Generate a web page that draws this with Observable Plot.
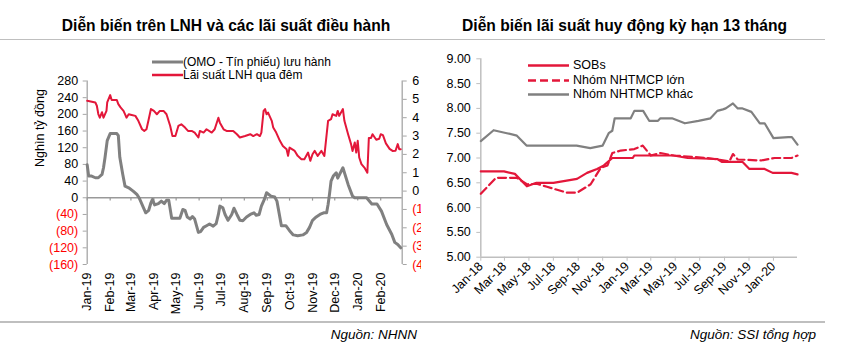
<!DOCTYPE html>
<html><head><meta charset="utf-8">
<script src="https://cdn.jsdelivr.net/npm/d3@7"></script>
<script src="https://cdn.jsdelivr.net/npm/@observablehq/plot@0.6"></script>
<style>
body{margin:0;background:#fff;font-family:"Liberation Sans",Arial,sans-serif;}
#page{position:relative;width:842px;height:354px;overflow:hidden;background:#fff;}
.abs{position:absolute;}
.title{font-weight:bold;font-size:15.6px;color:#000;text-align:center;line-height:18px;white-space:nowrap;}
.rule{background:#BFBFBF;height:1.5px;}
.src{font-style:italic;font-size:13.5px;text-align:right;white-space:nowrap;line-height:16px;color:#000;}
.leg{font-size:12.5px;line-height:13px;white-space:nowrap;display:flex;align-items:center;color:#000;}
.leg.small{font-size:12px;line-height:12px;}
.leg svg{display:block;}
.chart{overflow:hidden;}
</style></head><body>
<div id="page">
  <div class="abs title" style="left:0;width:452px;top:17px;">Diễn biến trên LNH và các lãi suất điều hành</div>
  <div class="abs title" style="left:421px;width:407px;top:17px;">Diễn biến lãi suất huy động kỳ hạn 13 tháng</div>
  <div class="abs rule" style="left:0;width:421px;top:38.5px;"></div>
  <div class="abs rule" style="left:421px;width:404px;top:38.5px;"></div>
  <div class="abs chart" id="left" style="left:0;top:40px;width:421px;height:280px;"></div>
  <div class="abs chart" id="right" style="left:421px;top:40px;width:421px;height:280px;"></div>
  <div class="abs" style="left:40px;top:128px;width:0;height:0;">
    <div style="position:absolute;transform:translate(-50%,-50%) rotate(-90deg);font-size:12.5px;white-space:nowrap;">Nghìn tỷ đồng</div>
  </div>
  <div class="abs leg small" style="left:152px;top:56.3px;"><svg width="31" height="12"><line x1="0" x2="31" y1="6" y2="6" stroke="#808080" stroke-width="3"/></svg><span>(OMO - Tín phiếu) lưu hành</span></div>
  <div class="abs leg small" style="left:152px;top:69px;"><svg width="31" height="12"><line x1="0" x2="31" y1="6" y2="6" stroke="#E3173A" stroke-width="2.5"/></svg><span>Lãi suất LNH qua đêm</span></div>
  <div class="abs leg" style="left:528px;top:58.5px;"><svg width="45" height="13"><line x1="0" x2="41" y1="6.5" y2="6.5" stroke="#E3173A" stroke-width="2.5"/></svg><span>SOBs</span></div>
  <div class="abs leg" style="left:528px;top:74.2px;"><svg width="45" height="13"><line x1="0" x2="41" y1="6.5" y2="6.5" stroke="#E3173A" stroke-width="2.5" stroke-dasharray="8,4"/></svg><span>Nhóm NHTMCP lớn</span></div>
  <div class="abs leg" style="left:528px;top:87.8px;"><svg width="45" height="13"><line x1="0" x2="41" y1="6.5" y2="6.5" stroke="#808080" stroke-width="2.5"/></svg><span>Nhóm NHTMCP khác</span></div>
  <div class="abs rule" style="left:0;width:421px;top:321px;"></div>
  <div class="abs rule" style="left:421px;width:404px;top:321px;"></div>
  <div class="abs src" style="right:425px;top:327px;">Nguồn: NHNN</div>
  <div class="abs src" style="right:26px;top:327px;">Nguồn: SSI tổng hợp</div>
</div>
<script>
// ---- Left chart data ----
const lnhDates = ["2019-01-01","2019-01-12","2019-01-14","2019-01-16","2019-01-18","2019-01-21","2019-01-23","2019-01-27","2019-01-28","2019-02-01","2019-02-03","2019-02-10","2019-02-12","2019-02-15","2019-02-19","2019-02-21","2019-02-23","2019-02-26","2019-03-02","2019-03-07","2019-03-11","2019-03-16","2019-03-19","2019-03-22","2019-03-25","2019-03-28","2019-04-01","2019-04-05","2019-04-09","2019-04-14","2019-04-18","2019-04-23","2019-04-26","2019-04-30","2019-05-04","2019-05-08","2019-05-13","2019-05-17","2019-05-22","2019-05-26","2019-05-31","2019-06-02","2019-06-07","2019-06-11","2019-06-18","2019-06-22","2019-06-27","2019-06-29","2019-07-04","2019-07-08","2019-07-17","2019-07-22","2019-07-26","2019-08-02","2019-08-09","2019-08-13","2019-08-18","2019-08-22","2019-08-24","2019-08-27","2019-08-29","2019-08-31","2019-09-02","2019-09-07","2019-09-09","2019-09-13","2019-09-18","2019-09-22","2019-09-27","2019-09-29","2019-10-01","2019-10-08","2019-10-12","2019-10-17","2019-10-21","2019-10-26","2019-10-29","2019-11-01","2019-11-04","2019-11-08","2019-11-13","2019-11-17","2019-11-22","2019-11-26","2019-11-28","2019-12-03","2019-12-05","2019-12-07","2019-12-12","2019-12-14","2019-12-19","2019-12-23","2019-12-25","2019-12-28","2019-12-30","2020-01-01","2020-01-03","2020-01-06","2020-01-10","2020-01-14","2020-01-16","2020-01-19","2020-01-21","2020-01-26","2020-01-30","2020-02-01","2020-02-04","2020-02-08","2020-02-13","2020-02-17","2020-02-21","2020-02-24","2020-02-26","2020-02-28"];
const lnhRates = [4.92,4.83,4.65,4.2,4.0,4.3,4.0,4.37,4.83,5.23,4.96,4.96,4.74,4.56,4.37,4.19,4.0,4.19,4.15,4.1,3.83,3.37,3.28,3.37,3.92,4.47,4.37,4.19,4.37,4.37,4.19,3.55,3.0,3.0,3.55,3.64,3.46,3.28,3.28,3.19,2.92,3.28,3.19,3.37,3.19,3.37,4.0,3.73,3.37,3.28,3.28,3.1,2.92,3.0,3.1,3.0,3.1,3.0,3.19,4.37,4.47,4.19,4.28,3.83,3.46,3.19,2.74,2.46,2.28,1.92,2.37,2.19,1.92,1.74,1.74,2.1,1.65,2.01,2.19,1.92,2.19,1.92,3.83,3.92,4.19,4.1,4.37,4.1,4.47,3.83,3.1,2.56,2.19,2.65,2.1,2.74,1.83,1.47,1.28,1.0,2.9,2.9,3.1,2.8,2.85,3.1,3.05,2.6,2.3,2.19,2.2,2.56,2.28,2.28];
const omoDates = ["2019-01-01","2019-01-03","2019-01-07","2019-01-12","2019-01-16","2019-01-21","2019-01-23","2019-01-25","2019-01-28","2019-02-01","2019-02-10","2019-02-12","2019-02-14","2019-02-18","2019-02-21","2019-02-26","2019-03-04","2019-03-09","2019-03-12","2019-03-13","2019-03-18","2019-03-21","2019-03-25","2019-03-28","2019-03-30","2019-04-02","2019-04-07","2019-04-11","2019-04-15","2019-04-18","2019-04-21","2019-04-25","2019-05-02","2019-05-06","2019-05-10","2019-05-13","2019-05-16","2019-05-20","2019-05-23","2019-05-26","2019-05-31","2019-06-03","2019-06-07","2019-06-11","2019-06-15","2019-06-20","2019-06-24","2019-06-27","2019-06-29","2019-07-03","2019-07-06","2019-07-10","2019-07-15","2019-07-18","2019-07-22","2019-07-26","2019-07-30","2019-08-04","2019-08-09","2019-08-14","2019-08-17","2019-08-21","2019-08-24","2019-08-28","2019-08-31","2019-09-03","2019-09-06","2019-09-11","2019-09-14","2019-09-20","2019-09-26","2019-10-01","2019-10-06","2019-10-12","2019-10-19","2019-10-24","2019-10-28","2019-11-01","2019-11-06","2019-11-11","2019-11-16","2019-11-20","2019-11-22","2019-11-24","2019-11-26","2019-11-29","2019-12-03","2019-12-05","2019-12-12","2019-12-19","2019-12-25","2019-12-28","2020-01-13","2020-01-20","2020-01-27","2020-02-02","2020-02-09","2020-02-16","2020-02-20","2020-02-24","2020-02-28"];
const omoValues = [79,52,52,48,48,56,72,96,137,154,154,149,97,56,28,24,16,8,0,-4,-24,-36,-30,-12,-4,-17,-14,-8,-14,-6,-6,-49,-49,-49,-28,-30,-46,-51,-45,-51,-83,-81,-71,-67,-63,-68,-62,-40,-20,-24,-40,-54,-40,-25,-40,-54,-55,-46,-40,-36,-42,-40,-20,-4,12,8,4,2,-8,-67,-67,-79,-89,-91,-89,-83,-71,-54,-46,-40,-36,-36,-16,10,40,52,60,47,72,32,4,0,0,-15,-15,-32,-64,-88,-107,-112,-120];
const leftMonthTicks = ["2019-01-01","2019-02-01","2019-03-01","2019-04-01","2019-05-01","2019-06-01","2019-07-01","2019-08-01","2019-09-01","2019-10-01","2019-11-01","2019-12-01","2020-01-01","2020-02-01"];
const leftYTicks = [-160,-120,-80,-40,0,40,80,120,160,200,240,280];
const rightYTicksLeftChart = [-4,-3,-2,-1,0,1,2,3,4,5,6];

// ---- Right chart data ----
const sobDates = ["2018-01-01","2018-02-28","2018-03-27","2018-04-26","2018-05-20","2018-07-01","2018-08-29","2018-09-23","2018-10-18","2018-11-04","2018-11-25","2019-01-15","2019-01-19","2019-04-27","2019-06-01","2019-08-14","2019-08-26","2019-10-16","2019-11-02","2019-12-10","2019-12-30","2020-02-15","2020-03-01"];
const sobRates = [6.73,6.73,6.68,6.43,6.5,6.5,6.58,6.7,6.78,6.85,7.0,7.0,7.05,7.05,7.0,6.98,6.92,6.92,6.78,6.78,6.7,6.7,6.67];
const bigDates = ["2018-01-01","2018-02-08","2018-04-01","2018-04-26","2018-05-20","2018-06-15","2018-08-04","2018-08-29","2018-10-02","2018-10-27","2018-11-13","2018-11-25","2018-12-16","2019-01-19","2019-02-09","2019-03-01","2019-03-25","2019-04-27","2019-06-01","2019-07-20","2019-08-14","2019-09-13","2019-09-22","2019-10-04","2019-12-01","2020-01-04","2020-02-15","2020-03-01"];
const bigRates = [6.28,6.6,6.6,6.47,6.48,6.42,6.3,6.3,6.47,6.8,6.85,7.1,7.15,7.18,7.25,7.05,7.1,7.05,7.03,7.0,6.97,6.93,7.08,6.97,6.95,7.0,7.0,7.05];
const otherDates = ["2018-01-01","2018-02-02","2018-03-07","2018-04-01","2018-04-25","2018-08-28","2018-10-01","2018-11-01","2018-11-16","2018-11-25","2018-12-01","2019-01-10","2019-01-19","2019-02-10","2019-02-25","2019-03-19","2019-03-25","2019-04-23","2019-05-25","2019-06-28","2019-07-28","2019-08-14","2019-08-28","2019-09-04","2019-09-22","2019-10-04","2019-10-16","2019-11-07","2019-11-28","2019-12-10","2020-01-01","2020-02-07","2020-02-16","2020-03-01"];
const otherRates = [7.34,7.56,7.5,7.45,7.25,7.25,7.2,7.25,7.5,7.55,7.8,7.8,7.95,7.95,7.75,7.75,7.8,7.8,7.7,7.75,7.8,7.95,7.98,8.0,8.1,8.0,8.0,7.93,7.7,7.7,7.4,7.42,7.42,7.27];
const rightMonthTicks = ["2018-01-01","2018-03-01","2018-05-01","2018-07-01","2018-09-01","2018-11-01","2019-01-01","2019-03-01","2019-05-01","2019-07-01","2019-09-01","2019-11-01","2020-01-01"];
const rightYTicks = [5.0,5.5,6.0,6.5,7.0,7.5,8.0,8.5,9.0];

const RED = "#E3173A", GREY = "#808080", AXIS = "#A6A6A6";
const toDate = s => new Date(s + "T00:00:00Z");
const paren = d => d < 0 ? `(${-d})` : `${d}`;

// map right-axis value (-4..6) onto left-axis units (-160..280)
const f = v => -160 + (v + 4) * 44;
const finv = y => (y + 160) / 44 - 4;

const lnh = lnhDates.map((d, i) => ({date: toDate(d), v: lnhRates[i]}));
const omo = omoDates.map((d, i) => ({date: toDate(d), v: omoValues[i]}));
const lStart = toDate("2019-01-01"), lEnd = toDate("2020-03-01");

const leftPlot = Plot.plot({
  width: 421, height: 280,
  marginLeft: 86.7, marginRight: 19.3, marginTop: 40.5, marginBottom: 56,
  style: {fontFamily: "'Liberation Sans', Arial, sans-serif", fontSize: "12.5px", color: "#000", background: "transparent"},
  x: {type: "utc", domain: [lStart, lEnd]},
  y: {domain: [-160, 280]},
  marks: [
    Plot.ruleX([lStart], {stroke: AXIS, strokeWidth: 1.3}),
    Plot.ruleX([lEnd], {stroke: AXIS, strokeWidth: 1.3}),
    Plot.ruleY([0], {stroke: "#999", strokeWidth: 1.5}),
    Plot.ruleX(leftMonthTicks.map(toDate), {y1: 0, y2: -8, stroke: "#999", strokeWidth: 1.2}),
    Plot.axisY(leftYTicks.filter(d => d >= 0), {anchor: "left", tickSize: 4, tickPadding: 5, stroke: AXIS, fill: "#000", tickFormat: paren, label: null}),
    Plot.axisY(leftYTicks.filter(d => d < 0), {anchor: "left", tickSize: 4, tickPadding: 5, stroke: AXIS, fill: "#FF0000", tickFormat: paren, label: null}),
    Plot.axisY(rightYTicksLeftChart.filter(d => d >= 0).map(f), {anchor: "right", tickSize: 4, tickPadding: 6, stroke: AXIS, fill: "#000", tickFormat: d => paren(Math.round(finv(d))), label: null}),
    Plot.axisY(rightYTicksLeftChart.filter(d => d < 0).map(f), {anchor: "right", tickSize: 4, tickPadding: 6, stroke: AXIS, fill: "#FF0000", tickFormat: d => paren(Math.round(finv(d))), label: null}),
    Plot.axisX(leftMonthTicks.map(toDate), {anchor: "bottom", tickSize: 0, tickPadding: 8, tickRotate: -90, tickFormat: d3.utcFormat("%b-%y"), label: null, fill: "#000"}),
    Plot.line(omo, {x: "date", y: "v", stroke: GREY, strokeWidth: 3}),
    Plot.line(lnh, {x: "date", y: d => f(d.v), stroke: RED, strokeWidth: 2})
  ]
});
document.getElementById("left").append(leftPlot);

const mk = (ds, vs) => ds.map((d, i) => ({date: toDate(d), v: vs[i]}));
const rStart = toDate("2018-01-01"), rEnd = toDate("2020-03-01");
const rightPlot = Plot.plot({
  width: 421, height: 280,
  marginLeft: 59.3, marginRight: 45, marginTop: 18.3, marginBottom: 63.3,
  style: {fontFamily: "'Liberation Sans', Arial, sans-serif", fontSize: "12.5px", color: "#000", background: "transparent"},
  x: {type: "utc", domain: [rStart, rEnd]},
  y: {domain: [5, 9]},
  marks: [
    Plot.ruleX([rStart], {stroke: "#BFBFBF", strokeWidth: 1.5}),
    Plot.ruleY([5], {stroke: "#BFBFBF", strokeWidth: 1.5}),
    Plot.axisY(rightYTicks, {anchor: "left", tickSize: 4, tickPadding: 6, stroke: "#BFBFBF", fill: "#000", tickFormat: d3.format(".2f"), label: null}),
    Plot.axisX(rightMonthTicks.map(toDate), {anchor: "bottom", tickSize: 4, tickPadding: 3, stroke: "#BFBFBF", fill: "#000", tickRotate: -45, tickFormat: d3.utcFormat("%b-%y"), label: null}),
    Plot.line(mk(otherDates, otherRates), {x: "date", y: "v", stroke: GREY, strokeWidth: 2.2}),
    Plot.line(mk(bigDates, bigRates), {x: "date", y: "v", stroke: RED, strokeWidth: 2.2, strokeDasharray: "8,4"}),
    Plot.line(mk(sobDates, sobRates), {x: "date", y: "v", stroke: RED, strokeWidth: 2.2})
  ]
});
document.getElementById("right").append(rightPlot);
</script>
</body></html>
